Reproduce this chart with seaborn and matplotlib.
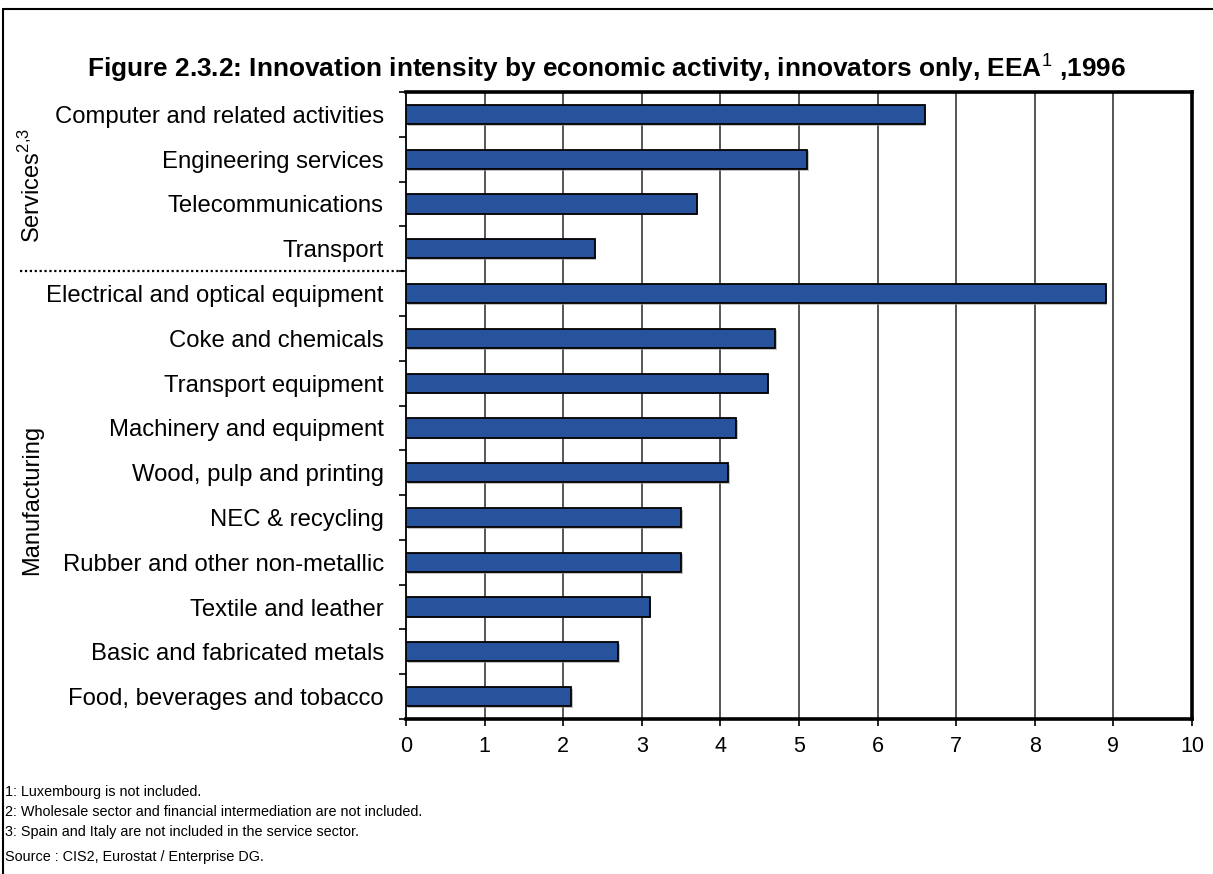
import matplotlib
matplotlib.use("Agg")
import matplotlib.pyplot as plt
import matplotlib.patheffects as pe
import matplotlib.transforms as mtransforms
from matplotlib.lines import Line2D
import seaborn as sns
import pandas as pd

# Sectors, top to bottom
services = ["Computer and related activities", "Engineering services",
            "Telecommunications", "Transport"]
manufacturing = ["Electrical and optical equipment", "Coke and chemicals",
                 "Transport equipment", "Machinery and equipment",
                 "Wood, pulp and printing", "NEC & recycling",
                 "Rubber and other non-metallic", "Textile and leather",
                 "Basic and fabricated metals", "Food, beverages and tobacco"]
services_values = [6.6, 5.1, 3.7, 2.4]
manufacturing_values = [8.9, 4.7, 4.6, 4.2, 4.1, 3.5, 3.5, 3.1, 2.7, 2.1]
x_ticks = list(range(0, 11))

footnotes = ["1: Luxembourg is not included.",
             "2: Wholesale sector and financial intermediation are not included.",
             "3: Spain and Italy are not included in the service sector."]
source = "Source : CIS2, Eurostat / Enterprise DG."

df = pd.DataFrame({
    "activity": services + manufacturing,
    "value": services_values + manufacturing_values,
})

sns.set_theme(style="white")
plt.rcParams["font.family"] = ["Liberation Sans", "DejaVu Sans"]
plt.rcParams["text.color"] = "black"
plt.rcParams["xtick.color"] = "black"
plt.rcParams["ytick.color"] = "black"
plt.rcParams["mathtext.fontset"] = "custom"
plt.rcParams["mathtext.rm"] = "Liberation Sans"
plt.rcParams["mathtext.bf"] = "Liberation Sans:bold"

fig = plt.figure(figsize=(12.13, 8.74), dpi=100)
ax = fig.add_axes([0.3347, 0.1773, 0.6480, 0.7174])

bar_color = "#27529c"
sns.barplot(data=df, y="activity", x="value", orient="h", color=bar_color,
            width=0.43, edgecolor="black", linewidth=1.3, saturation=1,
            ax=ax, zorder=3)
for p in ax.patches:
    p.set_path_effects([pe.SimplePatchShadow(offset=(1.2, -1.2),
                                             shadow_rgbFace="#999999", alpha=0.6),
                        pe.Normal()])

n = len(df)
ax.set_xlim(0, 10)
ax.set_ylim(n - 0.5, -0.5)
ax.set_xticks(x_ticks)
ax.set_xticklabels([str(t) for t in x_ticks], fontsize=15.5)
ax.set_yticks(range(n))
ax.set_yticklabels(df["activity"], fontsize=17.2)
ax.set_yticks([i - 0.5 for i in range(n + 1)], minor=True)
ax.tick_params(axis="y", which="major", length=0, pad=16, labelcolor="black")
ax.tick_params(axis="y", which="minor", length=5, width=1.2, color="black",
               direction="out", left=True)
ax.tick_params(axis="x", which="major", length=5, width=1.2, color="black",
               direction="out", bottom=True, pad=7, labelcolor="black")
ax.set_xlabel("")
ax.set_ylabel("")

ax.grid(False)
for t in x_ticks[1:-1]:
    ax.axvline(t, color="#3a3a3a", linewidth=1.2, zorder=1)

for side in ["top", "right", "bottom"]:
    ax.spines[side].set_linewidth(2.6)
    ax.spines[side].set_color("black")
ax.spines["left"].set_linewidth(1.3)
ax.spines["left"].set_color("black")

# Dotted separator between service and manufacturing sectors
trans = mtransforms.blended_transform_factory(ax.transAxes, ax.transData)
ax.add_line(Line2D([-0.491, 0.0], [3.5, 3.5], transform=trans, color="black",
                   linestyle=(0, (1, 1.2)), linewidth=1.6, clip_on=False))

# Group labels
fig.text(32 / 1213, 1 - 185 / 874, r"Services$^{\mathrm{2{,}3}}$", rotation=90,
         ha="center", va="center", fontsize=17)
fig.text(32 / 1213, 1 - 500 / 874, "Manufacturing", rotation=90,
         ha="center", va="center", fontsize=17)

# Title
fig.text(0.5, 1 - 68 / 874,
         r"Figure 2.3.2: Innovation intensity by economic activity, innovators only, EEA$^{\mathrm{1}}$ ,1996",
         ha="center", va="center", fontsize=18.9, fontweight="bold")

# Footnotes and source
for i, line in enumerate(footnotes):
    fig.text(5 / 1213, 1 - (792 + 20 * i) / 874, line, ha="left",
             va="center", fontsize=10.4)
fig.text(5 / 1213, 1 - 857 / 874, source, ha="left", va="center", fontsize=10.4)

# Frame around figure (left and top edges)
fig.add_artist(Line2D([3 / 1213, 3 / 1213], [0, 1 - 9 / 874],
                      transform=fig.transFigure, color="black", linewidth=1.5))
fig.add_artist(Line2D([3 / 1213, 1], [1 - 9 / 874, 1 - 9 / 874],
                      transform=fig.transFigure, color="black", linewidth=1.5))

fig.savefig("out.png", dpi=100)
